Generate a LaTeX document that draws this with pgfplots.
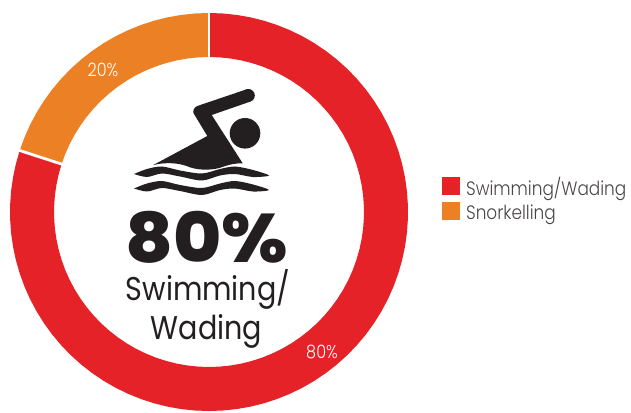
\documentclass[border=0pt]{standalone}
\usepackage{fontspec}
\setmainfont{Poppins}
\newfontfamily\fut[FakeStretch=0.87]{Poppins}
\newfontfamily\futl[FakeStretch=0.87]{Poppins Light}
\newfontfamily\futb[FakeStretch=1.07]{Poppins ExtraBold}
\usepackage{pgfplots}
\pgfplotsset{compat=1.18}
\definecolor{cred}{HTML}{E52228}
\definecolor{corg}{HTML}{EC8024}
\definecolor{cblk}{HTML}{231F20}
\definecolor{ctxt}{HTML}{4A4647}
\begin{document}
\begin{tikzpicture}[x=1bp,y=1bp]
\path[use as bounding box] (0,0) rectangle (631,412);
\begin{axis}[at={(0,0)},anchor=south west,width=631bp,height=412bp,scale only axis,
 xmin=-209,xmax=422,ymin=-200,ymax=212,hide axis,clip=false,
 legend style={at={(axis cs:233,13)},anchor=west,draw=none,fill=none,font=\futl\fontsize{19.5}{22}\selectfont\color{ctxt},
   row sep=2.5bp,inner sep=0pt,legend cell align=left,/tikz/every odd column/.append style={column sep=4.5bp}},
 legend image code/.code={\fill[#1] (0,-6.5bp) rectangle (17bp,10.5bp);}]
\addlegendimage{cred,fill=cred}\addlegendentry{Swimming/Wading}
\addlegendimage{corg,fill=corg}\addlegendentry{Snorkelling}
% share 80
\addplot[data cs=polar,cred,line width=44bp,forget plot] coordinates {
(90,177)(86,177)(82,177)(78,177)(74,177)(70,177)(66,177)(62,177)(58,177)(54,177)(50,177)(46,177)(42,177)(38,177)(34,177)(30,177)(26,177)(22,177)(18,177)(14,177)(10,177)(6,177)(2,177)(-2,177)(-6,177)(-10,177)(-14,177)(-18,177)(-22,177)(-26,177)(-30,177)(-34,177)(-38,177)(-42,177)(-46,177)(-50,177)(-54,177)(-58,177)(-62,177)(-66,177)(-70,177)(-74,177)(-78,177)(-82,177)(-86,177)(-90,177)(-94,177)(-98,177)(-102,177)(-106,177)(-110,177)(-114,177)(-118,177)(-122,177)(-126,177)(-130,177)(-134,177)(-138,177)(-142,177)(-146,177)(-150,177)(-154,177)(-158,177)(-162,177)(-166,177)(-170,177)(-174,177)(-178,177)(-182,177)(-186,177)(-190,177)(-194,177)(-198,177)};
% share 20
\addplot[data cs=polar,corg,line width=44bp,forget plot] coordinates {
(162,177)(158,177)(154,177)(150,177)(146,177)(142,177)(138,177)(134,177)(130,177)(126,177)(122,177)(118,177)(114,177)(110,177)(106,177)(102,177)(98,177)(94,177)(90,177)};
\addplot[data cs=polar,white,line width=2.8bp,forget plot] coordinates {(90,153)(90,201)};
\addplot[data cs=polar,white,line width=2.8bp,forget plot] coordinates {(162,153)(162,201)};
\node[white,font=\futl\fontsize{18.5}{20}\selectfont] at (axis cs:-106,142) {20\%};
\node[white,font=\futl\fontsize{18.5}{20}\selectfont] at (axis cs:113,-140) {80\%};
% swimmer
\fill[cblk] (axis cs:37.7,122.7) -- (axis cs:-11.7,106) .. controls (axis cs:-15,105) and (axis cs:-17,100) .. (axis cs:-15,98) -- (axis cs:-1.7,76) -- (axis cs:-55.7,47)
 .. controls (axis cs:-42,50.3) and (axis cs:-29,49) .. (axis cs:-19,44.7) .. controls (axis cs:-10,41.5) and (axis cs:5,41.5) .. (axis cs:14.3,45.3) .. controls (axis cs:20,47.5) and (axis cs:28,49) .. (axis cs:33.7,48.7) -- (axis cs:2.7,97) -- (axis cs:41,110.3) -- cycle;
\fill[cblk] (axis cs:39.3,116.5) circle[radius=6.5bp];
\fill[cblk] (axis cs:36,78.7) circle[radius=15.3bp];
\addplot[smooth,tension=0.5,fill=cblk,draw=none,forget plot] coordinates {(-75,38)(-62,43)(-47,45.5)(-29,41.5)(-7,38.5)(11,43)(26,45.5)(44,42)(60,36.5)(44,35)(26,38)(11,36.5)(-7,31.5)(-29,35.5)(-47,38.5)(-62,35)(-75,38)};
\addplot[smooth,tension=0.5,fill=cblk,draw=none,forget plot] coordinates {(-75,23.5)(-62,28.5)(-47,31)(-29,27)(-7,24)(11,28.5)(26,31)(44,27.5)(60,22)(44,20.5)(26,23.5)(11,22)(-7,17)(-29,21)(-47,24)(-62,20.5)(-75,23.5)};
% text
\node[cblk,anchor=base,inner sep=0pt,font=\futb\fontsize{69}{72}\selectfont] at (axis cs:-2.5,-50) {80\%};
\node[cblk,anchor=base,inner sep=0pt,font=\fut\fontsize{33}{36}\selectfont] at (axis cs:-1,-88) {Swimming/};
\node[cblk,anchor=base,inner sep=0pt,font=\fut\fontsize{33}{36}\selectfont] at (axis cs:-2.5,-127) {Wading};
\end{axis}
\end{tikzpicture}
\end{document}
